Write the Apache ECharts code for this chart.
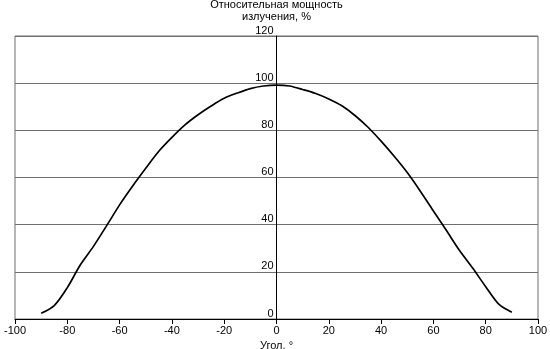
<!DOCTYPE html>
<html>
<head>
<meta charset="utf-8">
<script src="https://cdn.jsdelivr.net/npm/echarts@6/dist/echarts.min.js"></script>
<style>
  html, body { margin: 0; padding: 0; background: #fff; }
  #chart { width: 550px; height: 349px; }
</style>
</head>
<body>
<div id="chart"></div>
<script>
// Angle of emission, degrees
const angles = [-90, -85, -80, -75, -70, -65, -60, -55, -50, -45, -40, -35, -30, -25, -20, -15, -10, -5, 0,
                5, 10, 15, 20, 25, 30, 35, 40, 45, 50, 55, 60, 65, 70, 75, 80, 85, 90];
// Relative radiant power, %
const power = [2.4, 5.7, 13.3, 23, 30.8, 39.5, 48.4, 56.4, 63.9, 71.1, 77, 82.3, 86.6, 90.3, 93.6, 95.8, 97.7, 98.8, 99.2,
               98.8, 97.3, 95.6, 93.3, 90.4, 86.3, 81.3, 75.4, 69, 62.1, 54.2, 45.8, 37.5, 29, 21.6, 13.7, 6.3, 2.9];

const xTicks = { min: -100, max: 100, step: 20 };
const yTicks = { min: 0, max: 120, step: 20 };

const titleText = 'Относительная мощность\nизлучения, %';
const xName = 'Угол, °';

const font = 'Liberation Sans, Arial, sans-serif';

// Plot box in pixels
const box = { left: 15, right: 12, top: 36, bottom: 30 };
const plotWidth = 550 - box.left - box.right;

const chart = echarts.init(document.getElementById('chart'), null, { renderer: 'canvas' });

chart.setOption({
  animation: false,
  backgroundColor: '#ffffff',
  grid: {
    left: box.left, right: box.right, top: box.top, bottom: box.bottom,
    containLabel: false,
    outerBoundsMode: 'none',
    show: true, borderColor: '#6f6f6f', borderWidth: 1, backgroundColor: 'transparent'
  },
  xAxis: {
    type: 'value',
    min: xTicks.min, max: xTicks.max, interval: xTicks.step,
    name: xName,
    nameLocation: 'middle',
    nameGap: 18,
    nameTextStyle: { fontFamily: font, fontSize: 11, color: '#000', verticalAlign: 'top' },
    axisLine: { show: true, onZero: false, lineStyle: { color: '#000', width: 1 } },
    axisTick: { show: true, length: 5, lineStyle: { color: '#000' } },
    axisLabel: { margin: 6, fontFamily: font, fontSize: 11, color: '#000' },
    splitLine: { show: false }
  },
  yAxis: {
    type: 'value',
    position: 'left',
    // vertical axis sits at angle 0, in the middle of the plot
    offset: -plotWidth / 2,
    min: yTicks.min, max: yTicks.max, interval: yTicks.step,
    name: titleText,
    nameLocation: 'end',
    nameGap: 13,
    nameTextStyle: { fontFamily: font, fontSize: 11, color: '#000', align: 'center', verticalAlign: 'bottom', lineHeight: 12 },
    axisLine: { show: true, onZero: false, lineStyle: { color: '#000', width: 1 } },
    axisTick: { show: false },
    axisLabel: { margin: 3, fontFamily: font, fontSize: 11, color: '#000', verticalAlign: 'bottom' },
    splitLine: { show: true, lineStyle: { color: '#6f6f6f', width: 1 } }
  },
  series: [{
    type: 'line',
    data: angles.map((a, i) => [a, power[i]]),
    smooth: 0.3,
    showSymbol: false,
    lineStyle: { color: '#000', width: 1.7 },
    z: 5
  }]
});
</script>
</body>
</html>
